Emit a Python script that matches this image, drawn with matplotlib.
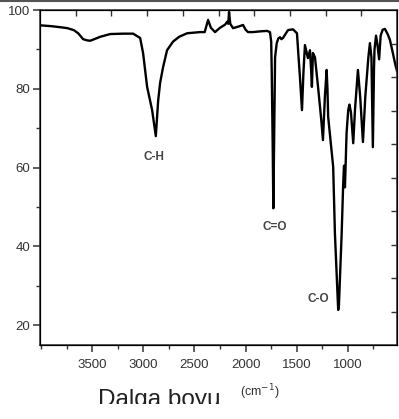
import matplotlib
matplotlib.use("Agg")
import matplotlib.pyplot as plt
from matplotlib.lines import Line2D
from matplotlib.patches import Rectangle
from matplotlib.ticker import MultipleLocator

# FTIR spectrum: wavenumber (cm-1) and transmittance (%)
wavenumber = [4000, 3900, 3800, 3744, 3680, 3637, 3588, 3550, 3520, 3470,
              3422, 3324, 3200, 3100, 3031, 3002, 2963, 2914, 2878, 2855,
              2836, 2807, 2768, 2709, 2650, 2572, 2445, 2400, 2367, 2340,
              2299, 2250, 2200, 2182, 2170, 2162, 2150, 2123, 2070, 2025,
              2000, 1977, 1928, 1850, 1791, 1762, 1750, 1745, 1735, 1729,
              1720, 1712, 1696, 1680, 1664, 1650, 1635, 1586, 1537, 1498,
              1485, 1469, 1449, 1435, 1420, 1391, 1371, 1360, 1352, 1342,
              1322, 1290, 1260, 1244, 1225, 1208, 1200, 1193, 1144, 1127,
              1110, 1095, 1088, 1061, 1046, 1038, 1029, 1013, 997, 985,
              970, 948, 930, 902, 880, 853, 830, 800, 785, 770,
              756, 745, 740, 725, 710, 695, 680, 660, 638, 610,
              589, 560, 535, 520]
transmittance = [96.1, 95.9, 95.6, 95.4, 94.9, 94.1, 92.6, 92.3, 92.2, 92.7,
                 93.2, 93.9, 94.0, 94.0, 92.9, 89.0, 80.5, 74.6, 68.0, 77.0,
                 81.5, 85.5, 89.8, 92.0, 93.2, 94.1, 94.4, 94.4, 97.5, 95.5,
                 94.4, 95.5, 96.3, 97.0, 96.5, 99.5, 96.5, 95.4, 95.8, 96.2,
                 95.0, 94.4, 94.4, 94.6, 94.7, 94.4, 92.0, 85.0, 65.0, 49.7,
                 70.0, 88.0, 91.6, 92.8, 93.1, 92.6, 92.9, 94.9, 95.1, 94.1,
                 89.0, 83.0, 74.6, 84.0, 91.1, 87.8, 89.8, 85.0, 80.5, 89.1,
                 88.0, 80.0, 72.0, 67.0, 78.0, 84.8, 80.0, 72.9, 60.2, 43.3,
                 33.0, 23.9, 25.0, 43.3, 56.0, 60.5, 55.0, 68.8, 74.6, 76.0,
                 74.0, 66.2, 75.0, 84.8, 78.0, 66.5, 78.0, 88.0, 91.6, 88.0,
                 65.2, 85.0, 90.0, 93.5, 91.0, 87.5, 93.5, 95.0, 95.2, 93.8,
                 92.4, 89.0, 86.0, 84.5]

x_ticks = [3500, 3000, 2500, 2000, 1500, 1000]

# band labels and where they sit
band_names = ["C-H", "C=O", "C-O"]
band_x = [2894, 1713, 1286]
band_y = [62.7, 45.0, 26.6]

tick_font = ["Liberation Sans Narrow", "Liberation Sans", "DejaVu Sans"]
grey = "#333333"

fig = plt.figure(figsize=(3.99, 4.19), dpi=100)
ax = fig.add_axes([0.1003, 0.1766, 0.8947, 0.7995])

ax.plot(wavenumber, transmittance, color="black", lw=1.7)

ax.set_xlim(4010, 520)
ax.set_ylim(15, 100)
ax.set_xticks(x_ticks)
ax.xaxis.set_minor_locator(MultipleLocator(250))
ax.yaxis.set_major_locator(MultipleLocator(20))
ax.yaxis.set_minor_locator(MultipleLocator(10))
ax.tick_params(which="major", direction="out", length=5, width=1.1,
               color=grey, labelcolor=grey, labelsize=9.5, pad=2)
ax.tick_params(axis="x", which="major", pad=5)
ax.tick_params(which="minor", direction="out", length=3, width=1.0, color=grey)
for lab in ax.get_xticklabels() + ax.get_yticklabels():
    lab.set_family(tick_font)
for sp in ax.spines.values():
    sp.set_color(grey)
    sp.set_linewidth(1.1)

# inward ticks along the top and right edges
top = ax.twiny()
top.set_xlim(0, 1)
top.set_xticks([i / 10 for i in range(1, 10)])
top.tick_params(direction="in", length=4, width=1.0, color=grey, labeltop=False)
right = ax.twinx()
right.set_ylim(0, 1)
right.set_yticks([i / 10 for i in range(1, 10)])
right.tick_params(direction="in", length=4, width=1.0, color=grey, labelright=False)

for name, x, y in zip(band_names, band_x, band_y):
    ax.text(x, y, name, ha="center", va="center", fontsize=8.5,
            fontweight="bold", color="#444444", family=tick_font)

fig.text(0.398, 0.031, "Dalga boyu", ha="center", va="baseline",
         fontsize=17.5, color="#222222", family=["Liberation Sans", "DejaVu Sans"])
fig.text(0.652, 0.055, r"(cm$^{-1}$)", ha="center", va="baseline",
         fontsize=9, color=grey, family=["Liberation Sans", "DejaVu Sans"])

# lower strip of the figure is blank, cutting through the axis title
fig.add_artist(Rectangle((0, 0), 1, 0.036, transform=fig.transFigure,
                         facecolor="white", edgecolor="none", zorder=10))
# thin grey rule along the very top edge
fig.add_artist(Line2D([0, 1], [0.998, 0.998], transform=fig.transFigure,
                      color="#555555", lw=1.5))

fig.savefig("out.png", dpi=100)
